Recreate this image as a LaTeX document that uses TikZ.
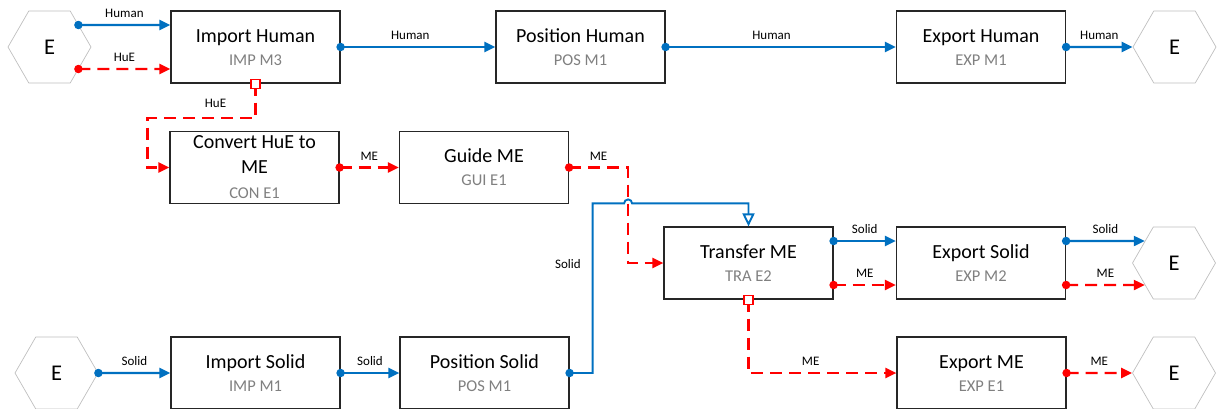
\documentclass[tikz,border=0pt]{standalone}
\usepackage{fontspec}
\setmainfont{Carlito}
\usetikzlibrary{arrows.meta,shapes.geometric,calc}
\definecolor{cblue}{HTML}{0070C0}
\definecolor{cred}{HTML}{FF0000}
\definecolor{cgray}{HTML}{808080}
\definecolor{hexgray}{HTML}{BFBFBF}
\begin{document}
\begin{tikzpicture}[x=1pt,y=-1pt,
  box/.style={draw=black!85, line width=1.2pt, minimum width=169pt, minimum height=72pt, inner sep=0pt, fill=white},
  ttl/.style={anchor=base, font=\fontsize{20}{24}\selectfont, inner sep=0pt},
  sub/.style={anchor=base, font=\fontsize{16.5}{20}\selectfont, text=cgray, inner sep=0pt},
  hexa/.style={regular polygon, regular polygon sides=6, minimum size=83pt, inner sep=0pt, draw=hexgray, line width=0.7pt, font=\fontsize{22.5}{26}\selectfont},
  bl/.style={draw=cblue, line width=2.2pt, -{Triangle[length=11pt,width=10pt]}},
  blopen/.style={draw=cblue, line width=1.9pt, -{Triangle[open,length=13pt,width=12pt,fill=white]}},
  rd/.style={draw=cred, line width=2.2pt, dash pattern=on 12pt off 7pt, -{Triangle[length=11pt,width=10pt]}},
  lbl/.style={font=\fontsize{13}{15}\selectfont, inner sep=1pt},
  bdot/.style={circle, fill=cblue, inner sep=0pt, minimum size=8.5pt},
  rdot/.style={circle, fill=cred, inner sep=0pt, minimum size=8.5pt},
  rsq/.style={draw=cred, fill=white, line width=1.2pt, inner sep=0pt, minimum size=9pt},
]
\useasboundingbox (0,0) rectangle (1217,408);

% terminals
\node[hexa] (hTL) at (49.5,47) {E};
\node[hexa] (hTR) at (1174.5,47) {E};
\node[hexa] (hMR) at (1174,263) {E};
\node[hexa] (hBR) at (1174,373) {E};
\node[hexa] (hBL) at (56.5,373) {E};

% boxes
\node[box] (imp) at (255.5,47) {};
\node[ttl] at ($(imp)+(0,-5)$) {Import Human};
\node[sub] at ($(imp)+(0,18)$) {IMP M3};

\node[box] (posh) at (580.5,47) {};
\node[ttl] at ($(posh)+(0,-5)$) {Position Human};
\node[sub] at ($(posh)+(0,18)$) {POS M1};

\node[box] (exph) at (981,47) {};
\node[ttl] at ($(exph)+(0,-5)$) {Export Human};
\node[sub] at ($(exph)+(0,18)$) {EXP M1};

\node[box] (conv) at (254.5,167.5) {};
\node[ttl] at ($(conv)+(0,-19)$) {Convert HuE to};
\node[ttl] at ($(conv)+(0,6)$) {ME};
\node[sub] at ($(conv)+(0,31)$) {CON E1};

\node[box] (gui) at (484,167.5) {};
\node[ttl] at ($(gui)+(0,-5)$) {Guide ME};
\node[sub] at ($(gui)+(0,18)$) {GUI E1};

\node[box] (tra) at (748.5,263) {};
\node[ttl] at ($(tra)+(0,-5)$) {Transfer ME};
\node[sub] at ($(tra)+(0,18)$) {TRA E2};

\node[box] (es) at (981,263) {};
\node[ttl] at ($(es)+(0,-5)$) {Export Solid};
\node[sub] at ($(es)+(0,18)$) {EXP M2};

\node[box] (imps) at (255.5,373) {};
\node[ttl] at ($(imps)+(0,-5)$) {Import Solid};
\node[sub] at ($(imps)+(0,18)$) {IMP M1};

\node[box] (poss) at (484.5,373) {};
\node[ttl] at ($(poss)+(0,-5)$) {Position Solid};
\node[sub] at ($(poss)+(0,18)$) {POS M1};

\node[box] (expme) at (981.5,373) {};
\node[ttl] at ($(expme)+(0,-5)$) {Export ME};
\node[sub] at ($(expme)+(0,18)$) {EXP E1};

% helper coordinates
\coordinate (hTLa) at ($(hTL.east)+(-13,-22)$);
\coordinate (hTLb) at ($(hTL.east)+(-13,22)$);
\coordinate (rv) at ($(gui.east)+(59,0)$);
\coordinate (bj) at ($(tra.north)+(0,-23)$);

% top row
\draw[bl] (hTLa) -- ($(imp.west)+(0,-22)$) node[lbl, midway, above=5pt] {Human};
\draw[rd] (hTLb) -- ($(imp.west)+(0,22)$) node[lbl, midway, above=5pt] {HuE};
\draw[bl] (imp.east) -- (posh.west) node[lbl, pos=0.45, above=5pt] {Human};
\draw[bl] (posh.east) -- (exph.west) node[lbl, pos=0.46, above=5pt] {Human};
\draw[bl] (exph.east) -- (hTR.west) node[lbl, midway, above=5pt] {Human};

% HuE to convert
\draw[rd] (imp.south) -- ++(0,34) -| ($(conv.west)+(-22,0)$) -- (conv.west);
\node[lbl] at ($(imp.south)+(-40,20)$) {HuE};

% middle
\draw[rd] (conv.east) -- (gui.west) node[lbl, midway, above=5pt] {ME};
\draw[rd] (gui.east) -- (rv) node[lbl, midway, above=5pt] {ME} |- (tra.west);

% solid up to transfer
\draw[blopen] (poss.east) -- ++(23,0) |- node[lbl, pos=0.32, left=10pt] {Solid} ($(rv |- bj)+(-4,0)$) arc[start angle=180, end angle=0, radius=4pt] -- (bj) -- (tra.north);

% transfer outputs
\draw[bl] ($(tra.east)+(0,-22)$) -- ($(es.west)+(0,-22)$) node[lbl, midway, above=5pt] {Solid};
\draw[rd] ($(tra.east)+(0,22)$) -- ($(es.west)+(0,22)$) node[lbl, midway, above=5pt] {ME};
\draw[bl] ($(es.east)+(0,-22)$) -- ($(hMR.west)+(12.7,-22)$) node[lbl, midway, above=5pt] {Solid};
\draw[rd] ($(es.east)+(0,22)$) -- ($(hMR.west)+(12.7,22)$) node[lbl, midway, above=5pt] {ME};
\draw[rd] (tra.south) |- (expme.west) node[lbl, pos=0.71, above=5pt] {ME};
\draw[rd] (expme.east) -- (hBR.west) node[lbl, midway, above=5pt] {ME};

% bottom row
\draw[bl] (hBL.east) -- (imps.west) node[lbl, midway, above=5pt] {Solid};
\draw[bl] (imps.east) -- (poss.west) node[lbl, midway, above=5pt] {Solid};

% port markers
\node[bdot] (p1) at (hTLa) {};
\node[rdot] (p2) at (hTLb) {};
\node[bdot] (p3) at (imp.east) {};
\node[bdot] (p4) at (posh.east) {};
\node[bdot] (p5) at (exph.east) {};
\node[rsq] (q1) at (imp.south) {};
\node[rdot] (p6) at (conv.east) {};
\node[rdot] (p7) at (gui.east) {};
\node[bdot] (p8) at (poss.east) {};
\node[bdot] (p9) at ($(tra.east)+(0,-22)$) {};
\node[rdot] (p10) at ($(tra.east)+(0,22)$) {};
\node[bdot] (p11) at ($(es.east)+(0,-22)$) {};
\node[rdot] (p12) at ($(es.east)+(0,22)$) {};
\node[rsq] (q2) at (tra.south) {};
\node[rdot] (p13) at (expme.east) {};
\node[bdot] (p14) at (hBL.east) {};
\node[bdot] (p15) at (imps.east) {};
\end{tikzpicture}
\end{document}
